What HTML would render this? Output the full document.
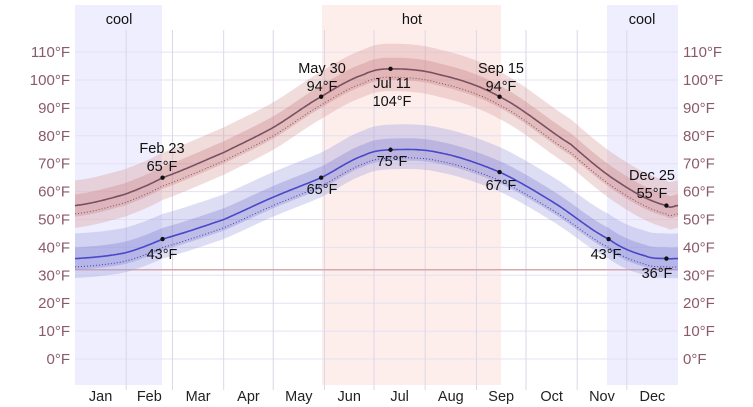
<!DOCTYPE html>
<html><head><meta charset="utf-8"><style>
html,body{margin:0;padding:0;background:#fff;width:753px;height:407px;overflow:hidden}
svg text{font-family:"Liberation Sans",sans-serif}
</style></head><body>
<svg id="s" width="753" height="407" xmlns="http://www.w3.org/2000/svg">
<rect x="75" y="5" width="87" height="380" fill="#eeeefe"/>
<rect x="607" y="5" width="71" height="380" fill="#eeeefe"/>
<rect x="322" y="5" width="179" height="380" fill="#fdeeec"/>
<g id="grid"></g>
<g id="data"></g>
<g font-size="14.5" fill="#111" text-anchor="middle">
<text x="119" y="24">cool</text><text x="412" y="24">hot</text><text x="642" y="24">cool</text>
</g>
<g id="lab" font-size="14.5" fill="#111" text-anchor="middle"></g>
</svg>
<script>
const X=d=>75+d*1.652, Y=t=>359-t*2.79;
const g=document.getElementById('grid');let h='';
for(let t=0;t<=110;t+=10){const y=Y(t);h+=`<line x1="75" x2="678" y1="${y}" y2="${y}" stroke="#e4e0f2" stroke-width="1"/>`;
h+=`<text x="70" y="${y+5}" font-size="15" fill="#8a5a68" text-anchor="end">${t}°F</text><text x="683" y="${y+5}" font-size="15" fill="#8a5a68">${t}°F</text>`;}
const mb=[0,31,59,90,120,151,181,212,243,273,304,334,365];
const mn=['Jan','Feb','Mar','Apr','May','Jun','Jul','Aug','Sep','Oct','Nov','Dec'];
for(let i=1;i<12;i++){const x=X(mb[i]);h+=`<line x1="${x}" x2="${x}" y1="30" y2="390" stroke="#ddd6e6" stroke-width="1"/>`;}
for(let i=0;i<12;i++){h+=`<text x="${X((mb[i]+mb[i+1])/2)}" y="401" font-size="14.5" fill="#222" text-anchor="middle">${mn[i]}</text>`;}
h+=`<line x1="75" x2="678" y1="${Y(32)}" y2="${Y(32)}" stroke="#d4a8ae" stroke-width="1.5"/>`;
g.innerHTML=h;
function interp(pts){const out=[];for(let d=0;d<=365;d+=1){let i=0;while(i<pts.length-2&&pts[i+1][0]<d)i++;
const p0=pts[Math.max(i-1,0)],p1=pts[i],p2=pts[i+1],p3=pts[Math.min(i+2,pts.length-1)];
const t=(d-p1[0])/(p2[0]-p1[0]);const t2=t*t,t3=t2*t;
const v=0.5*((2*p1[1])+(-p0[1]+p2[1])*t+(2*p0[1]-5*p1[1]+4*p2[1]-p3[1])*t2+(-p0[1]+3*p1[1]-3*p2[1]+p3[1])*t3);out.push(v);}return out;}
const hi=interp([[0,55],[30,59],[53,65],[90,74],[120,83],[149,94],[175,102],[191,104],[220,102],[257,94],[300,77],[330,63],[358,55],[365,55]]);
const lo=interp([[0,36],[30,38],[53,43],[90,50],[120,58],[149,65],[175,73],[191,75],[220,74],[257,67],[290,56],[323,43],[345,37],[358,36],[365,36]]);
const line=(a,o)=>a.map((v,d)=>(d?'L':'M')+X(d).toFixed(1)+','+Y(v+o).toFixed(1)).join('');
const band=(a,l,u)=>{let s=a.map((v,d)=>(d?'L':'M')+X(d).toFixed(1)+','+Y(v+u).toFixed(1)).join('');for(let d=365;d>=0;d--)s+='L'+X(d).toFixed(1)+','+Y(a[d]+l).toFixed(1);return s+'Z';};
let s='';
s+=`<path d="${band(hi,-8,9)}" fill="#d89a9c" fill-opacity="0.35"/>`;
s+=`<path d="${band(hi,-4,4)}" fill="#c98088" fill-opacity="0.35"/>`;
s+=`<path d="${band(lo,-7,9)}" fill="#9d9de0" fill-opacity="0.35"/>`;
s+=`<path d="${band(lo,-4,4)}" fill="#8080d0" fill-opacity="0.35"/>`;
s+=`<path d="${line(hi,-3)}" fill="none" stroke="#8a5060" stroke-width="1" stroke-dasharray="1,2"/>`;
s+=`<path d="${line(lo,-3)}" fill="none" stroke="#4040b0" stroke-width="1" stroke-dasharray="1,2"/>`;
s+=`<path d="${line(hi,0)}" fill="none" stroke="#7a5060" stroke-width="1.6"/>`;
s+=`<path d="${line(lo,0)}" fill="none" stroke="#4848c8" stroke-width="1.6"/>`;
const pts=[[53,65],[149,94],[191,104],[257,94],[358,55],[53,43],[149,65],[191,75],[257,67],[323,43],[358,36]];
pts.forEach(p=>s+=`<circle cx="${X(p[0])}" cy="${Y(p[1])}" r="2.2" fill="#111"/>`);
document.getElementById('data').innerHTML=s;
const L=[[162,153,'Feb 23'],[162,171,'65°F'],[322,73,'May 30'],[322,91,'94°F'],[392,88,'Jul 11'],[392,106,'104°F'],[501,73,'Sep 15'],[501,91,'94°F'],[652,180,'Dec 25'],[652,198,'55°F'],
[162,259,'43°F'],[322,194,'65°F'],[392,166,'75°F'],[501,190,'67°F'],[606,259,'43°F'],[657,278,'36°F']];
document.getElementById('lab').innerHTML=L.map(l=>`<text x="${l[0]}" y="${l[1]}">${l[2]}</text>`).join('');
</script>
</body></html>
